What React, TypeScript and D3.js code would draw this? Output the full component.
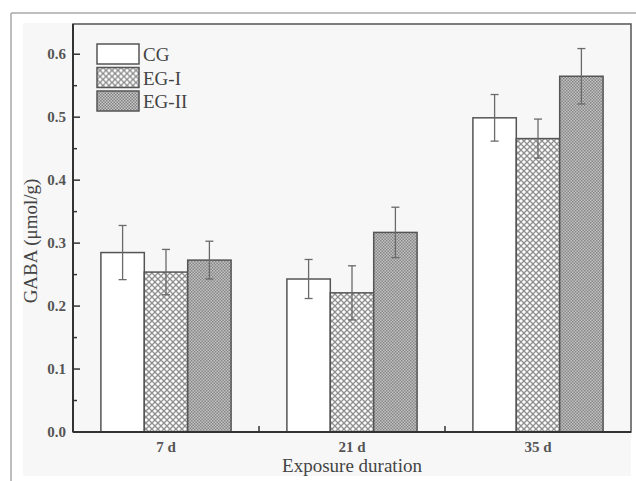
import React from 'react';
import * as d3 from 'd3';

const durations = ['7 d', '21 d', '35 d'];
const groups = ['CG', 'EG-I', 'EG-II'];
// mean values per group, indexed by duration
const cgValues = [0.285, 0.243, 0.499];
const eg1Values = [0.254, 0.221, 0.466];
const eg2Values = [0.273, 0.317, 0.565];
const cgErrors = [0.043, 0.031, 0.037];
const eg1Errors = [0.036, 0.043, 0.031];
const eg2Errors = [0.030, 0.040, 0.044];
const yTicks = [0, 0.1, 0.2, 0.3, 0.4, 0.5, 0.6];
const yMinorTicks = [0.05, 0.15, 0.25, 0.35, 0.45, 0.55];

const W = 636;
const H = 481;
const margin = { top: 24, right: 5, bottom: 49, left: 73 };
const font = '"Liberation Serif", "DejaVu Serif", serif';

export default function App() {
  const x0 = d3.scaleBand<string>()
    .domain(durations)
    .range([margin.left, W - margin.right]);
  const x1 = d3.scaleBand<string>()
    .domain(groups)
    .range([0, x0.bandwidth() * 0.7]);
  const y = d3.scaleLinear()
    .domain([0, 0.648])
    .range([H - margin.bottom, margin.top]);

  const values = [cgValues, eg1Values, eg2Values];
  const errors = [cgErrors, eg1Errors, eg2Errors];
  const fills = ['#ffffff', 'url(#hatchEG1)', 'url(#dotEG2)'];
  const bottom = H - margin.bottom;
  const groupOffset = x0.bandwidth() * 0.15;

  return (
    <svg width={W} height={H} style={{ position: 'absolute', left: 0, top: 0 }}>
      <defs>
        <pattern id="hatchEG1" width="6" height="6" patternUnits="userSpaceOnUse">
          <rect width="6" height="6" fill="#ffffff" />
          <path d="M0,0 L6,6 M6,0 L0,6" stroke="#8c8c8c" strokeWidth="1.3" />
        </pattern>
        <pattern id="dotEG2" width="3" height="3" patternUnits="userSpaceOnUse">
          <rect width="3" height="3" fill="#c8c8c8" />
          <rect width="1.5" height="1.5" fill="#808080" />
          <rect x="1.5" y="1.5" width="1.5" height="1.5" fill="#808080" />
        </pattern>
      </defs>

      {/* page frame and figure background */}
      <rect x={0} y={0} width={W} height={H} fill="#ffffff" />
      <line x1={11} y1={13} x2={W} y2={13} stroke="#a8a8a8" strokeWidth={1.5} />
      <line x1={11} y1={13} x2={11} y2={H} stroke="#a8a8a8" strokeWidth={1.5} />
      <rect x={23} y={23} width={W - margin.right - 23} height={476 - 23} fill="#f7f7f7" />

      {/* bars */}
      {durations.map((dur, i) => (
        <g key={dur} transform={`translate(${x0(dur)! + groupOffset},0)`}>
          {groups.map((g, k) => {
            const v = values[k][i];
            const e = errors[k][i];
            const bx = x1(g)!;
            const cx = bx + x1.bandwidth() / 2;
            return (
              <g key={g}>
                <rect
                  x={bx}
                  y={y(v)}
                  width={x1.bandwidth()}
                  height={bottom - y(v)}
                  fill={fills[k]}
                  stroke="#555555"
                  strokeWidth={1.5}
                />
                <line x1={cx} x2={cx} y1={y(v + e)} y2={y(v - e)} stroke="#6a6a6a" strokeWidth={1.3} />
                <line x1={cx - 4} x2={cx + 4} y1={y(v + e)} y2={y(v + e)} stroke="#6a6a6a" strokeWidth={1.3} />
                <line x1={cx - 4} x2={cx + 4} y1={y(v - e)} y2={y(v - e)} stroke="#6a6a6a" strokeWidth={1.3} />
              </g>
            );
          })}
        </g>
      ))}

      {/* plot frame */}
      <rect
        x={margin.left}
        y={margin.top}
        width={W - margin.right - margin.left}
        height={bottom - margin.top}
        fill="none"
        stroke="#555555"
        strokeWidth={1.5}
      />
      <line x1={margin.left} x2={W - margin.right} y1={bottom} y2={bottom} stroke="#333333" strokeWidth={2} />
      <line x1={margin.left} x2={margin.left} y1={margin.top} y2={bottom} stroke="#333333" strokeWidth={2} />

      {/* y axis ticks */}
      {yTicks.map(t => (
        <g key={t}>
          <line x1={margin.left} x2={margin.left + 7} y1={y(t)} y2={y(t)} stroke="#333333" strokeWidth={1.5} />
          <text
            x={margin.left - 7}
            y={y(t)}
            dy="0.35em"
            textAnchor="end"
            fontFamily={font}
            fontSize={15}
            fontWeight="bold"
            fill="#555555"
          >
            {t.toFixed(1)}
          </text>
        </g>
      ))}
      {yMinorTicks.map(t => (
        <line key={t} x1={margin.left} x2={margin.left + 4} y1={y(t)} y2={y(t)} stroke="#333333" strokeWidth={1.5} />
      ))}

      {/* x axis ticks between groups */}
      {durations.slice(1).map(d => (
        <line key={d} x1={x0(d)!} x2={x0(d)!} y1={bottom} y2={bottom - 6} stroke="#333333" strokeWidth={1.5} />
      ))}
      {durations.map(d => (
        <text
          key={d}
          x={x0(d)! + x0.bandwidth() / 2}
          y={bottom + 20}
          textAnchor="middle"
          fontFamily={font}
          fontSize={15}
          fontWeight="bold"
          fill="#555555"
        >
          {d}
        </text>
      ))}

      {/* axis titles */}
      <text
        x={(margin.left + W - margin.right) / 2}
        y={472}
        textAnchor="middle"
        fontFamily={font}
        fontSize={19}
        fill="#444444"
      >
        Exposure duration
      </text>
      <text
        transform="translate(37,241) rotate(-90)"
        textAnchor="middle"
        fontFamily={font}
        fontSize={19}
        fill="#444444"
      >
        GABA (μmol/g)
      </text>

      {/* legend */}
      {groups.map((g, k) => (
        <g key={g} transform={`translate(97,${44 + k * 23.5})`}>
          <rect width={42} height={20} fill={fills[k]} stroke="#555555" strokeWidth={1.5} />
          <text x={46} y={17} fontFamily={font} fontSize={19} fill="#444444">
            {g}
          </text>
        </g>
      ))}
    </svg>
  );
}
